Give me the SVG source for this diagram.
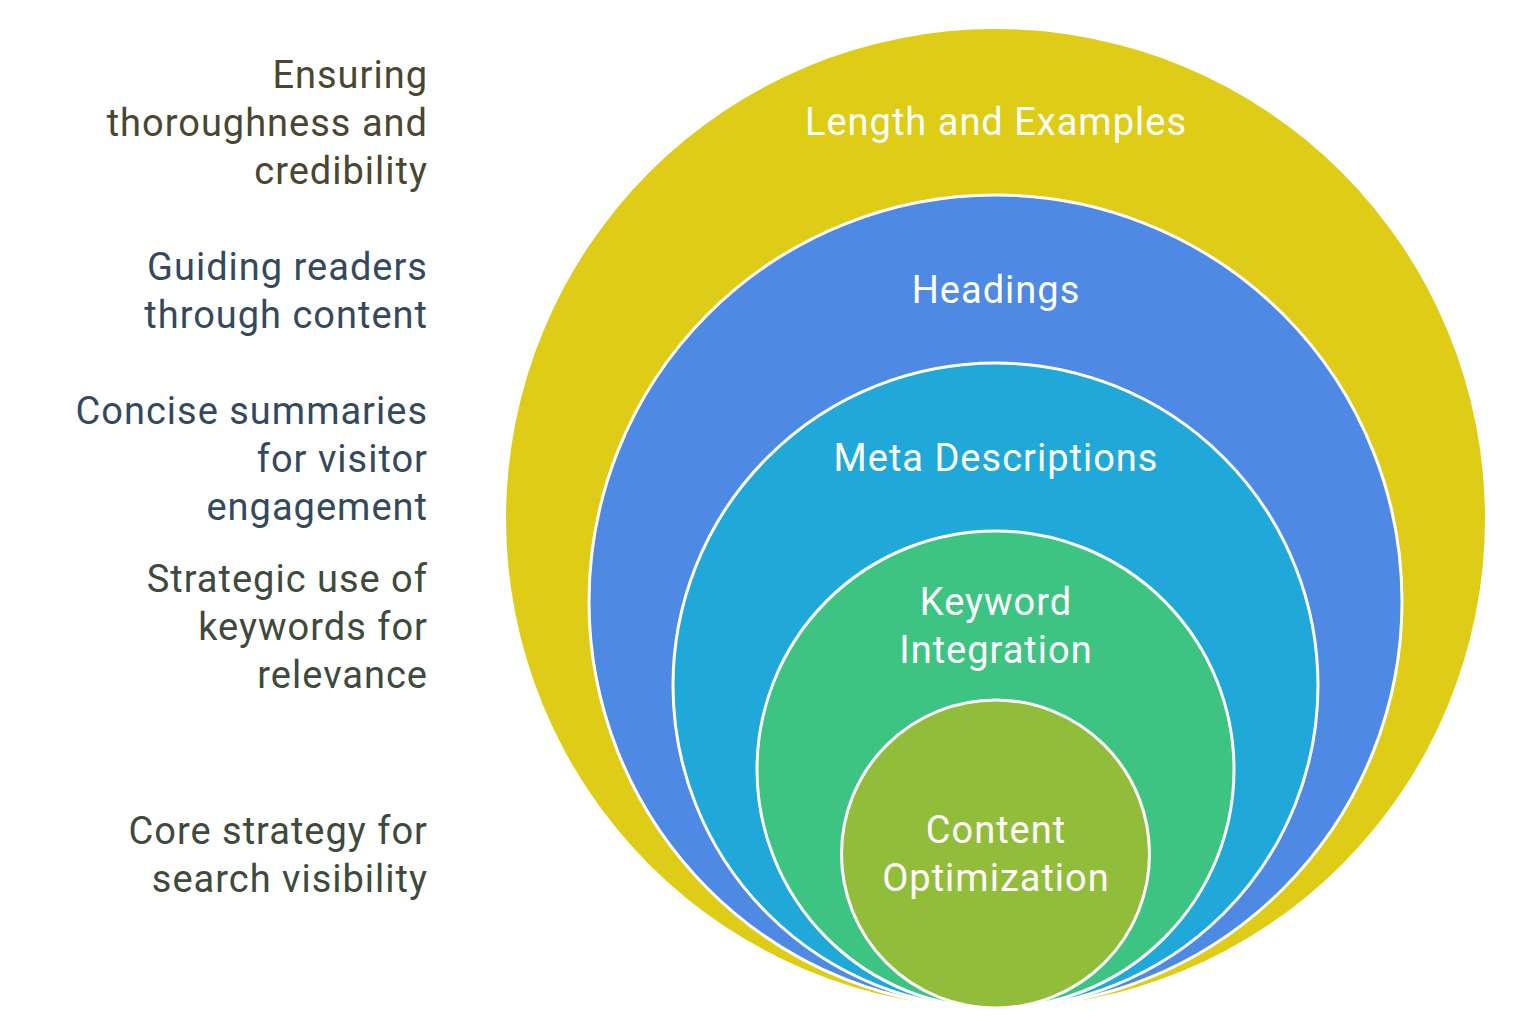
<svg xmlns="http://www.w3.org/2000/svg" width="1536" height="1023" viewBox="0 0 1536 1023">
<style>
.ring{stroke:#ffffff;stroke-width:3}
.in{font-family:Roboto,"Liberation Sans",sans-serif;font-size:38px;letter-spacing:1px;fill:#ffffff;text-anchor:middle}
.side{font-family:Roboto,"Liberation Sans",sans-serif;font-size:38px;letter-spacing:1px;text-anchor:end}
</style>
<rect width="1536" height="1023" fill="#ffffff"/>
<g id="length-and-examples">
<circle cx="995.5" cy="518.5" r="489.5" fill="#DFCC16"/>
<text class="in" x="996" y="135">Length and Examples</text>
</g>
<g id="headings">
<circle class="ring" cx="995.5" cy="601.5" r="406.5" fill="#4E89E4"/>
<text class="in" x="996" y="303">Headings</text>
</g>
<g id="meta-descriptions">
<circle class="ring" cx="995.5" cy="685.5" r="322.5" fill="#20A9D8"/>
<text class="in" x="996" y="471">Meta Descriptions</text>
</g>
<g id="keyword-integration">
<circle class="ring" cx="995.5" cy="769.5" r="238.5" fill="#3EC482"/>
<text class="in" x="996" y="615">Keyword</text>
<text class="in" x="996" y="663">Integration</text>
</g>
<g id="content-optimization">
<circle class="ring" cx="995.5" cy="854" r="154" fill="#92BD3A"/>
<text class="in" x="996" y="843">Content</text>
<text class="in" x="996" y="891">Optimization</text>
</g>
<g id="desc-length">
<text class="side" x="428" y="88" fill="#4A4630">Ensuring</text>
<text class="side" x="428" y="136" fill="#4A4630">thoroughness and</text>
<text class="side" x="428" y="184" fill="#4A4630">credibility</text>
</g>
<g id="desc-headings">
<text class="side" x="428" y="280" fill="#34495E">Guiding readers</text>
<text class="side" x="428" y="328" fill="#34495E">through content</text>
</g>
<g id="desc-meta">
<text class="side" x="428" y="424" fill="#34495E">Concise summaries</text>
<text class="side" x="428" y="472" fill="#34495E">for visitor</text>
<text class="side" x="428" y="520" fill="#34495E">engagement</text>
</g>
<g id="desc-keyword">
<text class="side" x="428" y="592" fill="#3D4A3C">Strategic use of</text>
<text class="side" x="428" y="640" fill="#3D4A3C">keywords for</text>
<text class="side" x="428" y="688" fill="#3D4A3C">relevance</text>
</g>
<g id="desc-content">
<text class="side" x="428" y="844" fill="#3D4A3C">Core strategy for</text>
<text class="side" x="428" y="892" fill="#3D4A3C">search visibility</text>
</g>
<g id="connectors"></g>
</svg>
